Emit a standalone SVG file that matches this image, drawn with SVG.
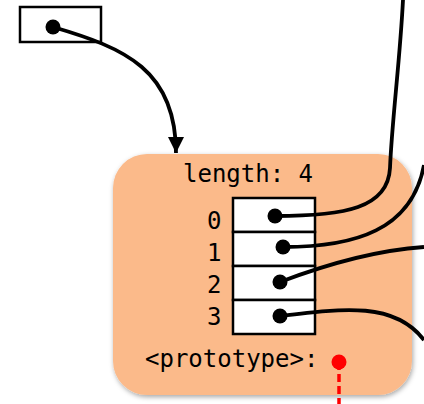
<svg xmlns="http://www.w3.org/2000/svg" width="424" height="404" viewBox="0 0 424 404">
<defs>
<style>
.box{fill:#fff;stroke:#000;stroke-width:2.5}
.lbl{font-family:"DejaVu Sans Mono","Liberation Mono",monospace;font-size:24px;fill:#000}
.wire{fill:none;stroke:#000;stroke-width:3.8}
.dot{fill:#000}
</style>
<filter id="sh" x="-10%" y="-10%" width="120%" height="120%">
<feDropShadow dx="1" dy="2" stdDeviation="2.5" flood-color="#000" flood-opacity="0.35"/>
</filter>
<marker id="ah" viewBox="0 0 10 10" refX="10" refY="5" markerWidth="4.5" markerHeight="4.2" orient="auto" markerUnits="strokeWidth">
<path d="M0,0 L10,5 L0,10 z" fill="#000"/>
</marker>
</defs>
<g id="var">
<rect class="box" x="20" y="7" width="81" height="35"/>
</g>
<g id="array">
<rect x="113" y="154" width="299" height="241" rx="34" fill="#FBBA8A" filter="url(#sh)"/>
<text class="lbl" x="183" y="182">length: 4</text>
<text class="lbl" x="207" y="229">0</text>
<text class="lbl" x="207" y="261">1</text>
<text class="lbl" x="207" y="293">2</text>
<text class="lbl" x="207" y="325">3</text>
<rect class="box" x="233" y="198" width="82" height="34"/>
<rect class="box" x="233" y="232" width="82" height="34"/>
<rect class="box" x="233" y="266" width="82" height="34"/>
<rect class="box" x="233" y="300" width="82" height="34"/>
<text class="lbl" x="145" y="367">&lt;prototype&gt;:</text>
</g>
<g id="connectors">
<path class="wire" d="M53,27 C125,48 176,70 176,153" marker-end="url(#ah)"/>
<path class="wire" d="M275,216 C345,216 388,208 390,168 C392,120 400,60 403,0"/>
<path class="wire" d="M283,247 C355,247 412,230 424,165"/>
<path class="wire" d="M280,282 C330,263 380,250 424,247"/>
<path class="wire" d="M280,316 C345,308 395,302 424,340"/>
<path d="M339,362 L339,404" fill="none" stroke="#f00" stroke-width="3.5" stroke-dasharray="8,4"/>
<circle class="dot" cx="53" cy="27" r="7.5"/>
<circle class="dot" cx="275" cy="216" r="7.5"/>
<circle class="dot" cx="283" cy="247" r="7.5"/>
<circle class="dot" cx="280" cy="282" r="7.5"/>
<circle class="dot" cx="280" cy="316" r="7.5"/>
<circle cx="339" cy="362" r="7.5" fill="#f00"/>
</g>
</svg>
